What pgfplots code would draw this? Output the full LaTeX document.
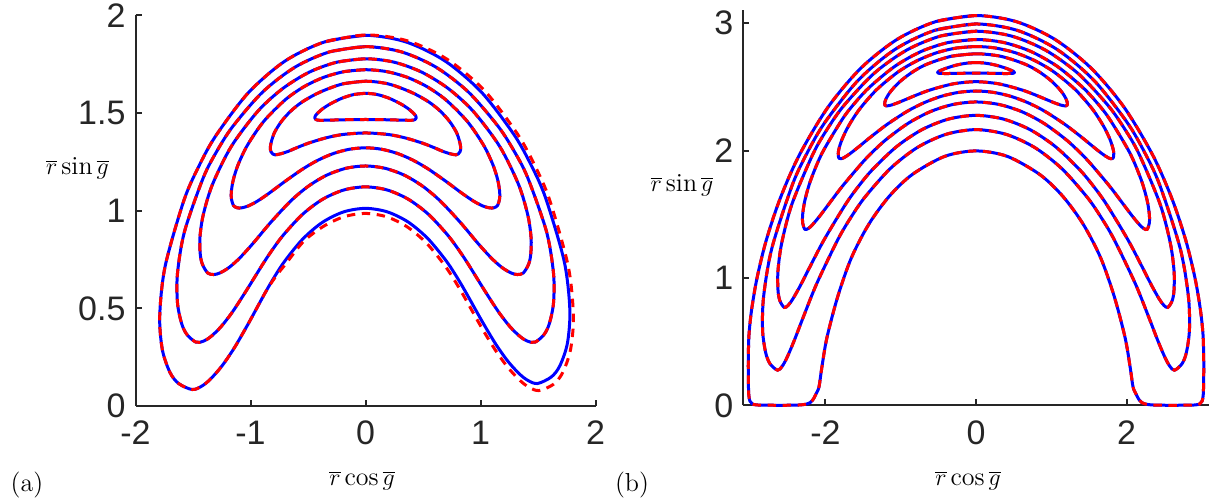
\documentclass[border=0pt]{standalone}
\usepackage{pgfplots}
\usepackage{pgfplotstable}
\pgfplotsset{compat=1.18}
\usepackage{fontspec}
\newfontfamily\ticksf{Liberation Sans}
\definecolor{axgray}{rgb}{0.15,0.15,0.15}
\definecolor{mblue}{rgb}{0,0,1}
\definecolor{mred}{rgb}{1,0,0}
\pgfplotsset{
  mystyle/.style={scale only axis, axis lines=left, axis line style={-, line width=1pt, draw=axgray},
    tick align=inside, major tick length=3pt, tick style={line width=1pt, draw=axgray},
    tick label style={font=\ticksf\fontsize{17}{20}\selectfont, text=axgray}, clip=false},
  bl/.style={draw=mblue, line width=1.5pt, smooth, tension=0.5, mark=none, line join=round},
  rd/.style={draw=mred, line width=1.5pt, smooth, tension=0.5, mark=none, dash pattern=on 4.2pt off 3.3pt},
}
% ---------------- panel (a) ----------------
\pgfplotstableread{
x y
0 1.601
-0.1 1.595
-0.2 1.577
-0.3 1.549
-0.37 1.523
-0.41 1.503
-0.435 1.487
-0.442 1.476
-0.432 1.467
-0.4 1.463
-0.3 1.464
-0.15 1.466
0 1.467
0.15 1.466
0.3 1.464
0.4 1.463
0.432 1.467
0.442 1.476
0.435 1.487
0.41 1.503
0.37 1.523
0.3 1.549
0.2 1.577
0.1 1.595
0 1.601
-0.1 1.595
}\tAi
\pgfplotstableread{
x y
0 1.663
-0.2 1.649
-0.4 1.606
-0.55 1.557
-0.65 1.51
-0.73 1.458
-0.79 1.402
-0.818 1.355
-0.828 1.322
-0.822 1.302
-0.806 1.29
-0.785 1.286
-0.74 1.291
-0.68 1.302
-0.6 1.322
-0.5 1.345
-0.35 1.372
-0.2 1.39
0 1.398
0.2 1.39
0.35 1.372
0.5 1.345
0.6 1.322
0.68 1.302
0.74 1.291
0.785 1.286
0.806 1.29
0.822 1.302
0.828 1.322
0.818 1.355
0.79 1.402
0.73 1.458
0.65 1.51
0.55 1.557
0.4 1.606
0.2 1.649
0 1.663
-0.2 1.649
}\tAii
\pgfplotstableread{
x y
0 1.722
-0.1808 1.7125
-0.3595 1.6837
-0.5338 1.6354
-0.7007 1.5666
-0.8865 1.4563
-1.0276 1.3345
-1.1087 1.2341
-1.1501 1.1569
-1.1666 1.0973
-1.1660 1.0604
-1.1481 1.0264
-1.1161 1.0150
-1.0785 1.0144
-1.0185 1.0246
-0.9418 1.0483
-0.8388 1.0893
-0.7001 1.1500
-0.5432 1.2143
-0.4110 1.2593
-0.2761 1.2934
-0.1388 1.3147
0 1.322
0.1388 1.3147
0.2761 1.2934
0.4110 1.2593
0.5432 1.2143
0.7001 1.1500
0.8388 1.0893
0.9418 1.0483
1.0185 1.0246
1.0785 1.0144
1.1161 1.0150
1.1481 1.0264
1.1660 1.0604
1.1666 1.0973
1.1501 1.1569
1.1087 1.2341
1.0276 1.3345
0.8865 1.4563
0.7007 1.5666
0.5338 1.6354
0.3595 1.6837
0.1808 1.7125
0 1.722
-0.1808 1.7125
}\tAiii
\pgfplotstableread{
x y
0 1.778
-0.2459 1.7609
-0.4872 1.7099
-0.7187 1.6259
-0.9360 1.5095
-1.1681 1.3280
-1.3321 1.1324
-1.4117 0.9767
-1.4400 0.8601
-1.4363 0.7736
-1.4162 0.7228
-1.3704 0.6802
-1.3189 0.6731
-1.2651 0.6814
-1.1870 0.7090
-1.0946 0.7573
-0.9788 0.8321
-0.8260 0.9390
-0.6507 1.0494
-0.4974 1.1253
-0.3368 1.1821
-0.1700 1.2172
0 1.229
0.1700 1.2172
0.3368 1.1821
0.4974 1.1253
0.6507 1.0494
0.8260 0.9390
0.9788 0.8321
1.0946 0.7573
1.1870 0.7090
1.2651 0.6814
1.3189 0.6731
1.3704 0.6802
1.4162 0.7228
1.4363 0.7736
1.4400 0.8601
1.4117 0.9767
1.3321 1.1324
1.1681 1.3280
0.9360 1.5095
0.7187 1.6259
0.4872 1.7099
0.2459 1.7609
0 1.778
-0.2459 1.7609
}\tAiv
\pgfplotstableread{
x y
0 1.84
-0.3097 1.8137
-0.6103 1.7359
-0.8938 1.6082
-1.1508 1.4340
-1.2888 1.3086
-1.4107 1.1687
-1.5742 0.8925
-1.6348 0.6797
-1.6350 0.5289
-1.5995 0.4234
-1.5534 0.3664
-1.4742 0.3268
-1.4078 0.3321
-1.3438 0.3557
-1.2560 0.4063
-1.1575 0.4812
-1.0385 0.5888
-0.8854 0.7335
-0.7978 0.8100
-0.7068 0.8807
-0.5459 0.9822
-0.3722 1.0587
-0.1888 1.1060
0 1.122
0.1888 1.1060
0.3722 1.0587
0.5459 0.9822
0.7068 0.8807
0.7978 0.8100
0.8854 0.7335
1.0385 0.5888
1.1575 0.4812
1.2560 0.4063
1.3438 0.3557
1.4078 0.3321
1.4742 0.3268
1.5534 0.3664
1.5995 0.4234
1.6350 0.5289
1.6348 0.6797
1.5742 0.8925
1.4107 1.1687
1.2888 1.3086
1.1508 1.4340
0.8938 1.6082
0.6103 1.7359
0.3097 1.8137
0 1.84
-0.3097 1.8137
}\tAv
\pgfplotstableread{
x y
0 1.898
-0.3574 1.8640
-0.7024 1.7653
-1.0224 1.6015
-1.3053 1.3804
-1.4529 1.2233
-1.5811 1.0493
-1.7426 0.7148
-1.7893 0.4620
-1.7667 0.2886
-1.7011 0.1729
-1.6265 0.1158
-1.5076 0.0843
-1.4248 0.1014
-1.3492 0.1371
-1.2495 0.2041
-1.1433 0.2952
-1.0215 0.4190
-0.8729 0.5793
-0.7888 0.6641
-0.7018 0.7422
-0.5457 0.8549
-0.3743 0.9405
-0.1905 0.9939
0 1.012
0.1879 0.9944
0.3694 0.9426
0.5390 0.8591
0.6938 0.7493
0.7802 0.6735
0.8642 0.5907
1.0129 0.4347
1.1344 0.3152
1.2403 0.2275
1.3392 0.1638
1.4141 0.1302
1.4957 0.1151
1.6160 0.1488
1.6908 0.2068
1.7559 0.3221
1.7769 0.4937
1.7276 0.7415
1.5639 1.0689
1.4354 1.2390
1.2887 1.3917
1.0081 1.6069
0.6922 1.7663
0.3523 1.8640
0 1.898
-0.3574 1.8640
}\tAviB
\pgfplotstableread{
x y
0 1.900
-0.3574 1.8640
-0.7024 1.7653
-1.0224 1.6015
-1.3053 1.3804
-1.4529 1.2233
-1.5811 1.0493
-1.7426 0.7148
-1.7893 0.4620
-1.7667 0.2886
-1.7011 0.1729
-1.6265 0.1158
-1.5076 0.0843
-1.4248 0.1014
-1.3492 0.1371
-1.2495 0.2041
-1.1433 0.2952
-1.0215 0.4190
-0.8729 0.5793
-0.7841 0.6602
-0.6906 0.7302
-0.5381 0.8429
-0.3660 0.9198
-0.1858 0.9693
0 0.986
0.1861 0.9683
0.3655 0.9161
0.5329 0.8324
0.6856 0.7224
0.7712 0.6462
0.8540 0.5641
1.0031 0.4080
1.1275 0.2876
1.2375 0.1980
1.3415 0.1318
1.4209 0.0961
1.5079 0.0790
1.6330 0.1105
1.7119 0.1682
1.7818 0.2851
1.8077 0.4612
1.7623 0.7169
1.6000 1.0568
1.4711 1.2327
1.3216 1.3926
1.0342 1.6153
0.7086 1.7759
0.3595 1.8707
0 1.900
-0.3574 1.8640
}\tAviR
% ---------------- panel (b) ----------------
\pgfplotstableread{
x y
0 2.69
-0.1 2.687
-0.2 2.678
-0.3 2.664
-0.4 2.645
-0.46 2.631
-0.5 2.62
-0.51 2.612
-0.495 2.606
-0.4 2.604
-0.2 2.606
0 2.607
0.2 2.606
0.4 2.604
0.495 2.606
0.51 2.612
0.5 2.62
0.46 2.631
0.4 2.645
0.3 2.664
0.2 2.678
0.1 2.687
0 2.69
-0.1 2.687
}\tBi
\pgfplotstableread{
x y
0 2.759
-0.3266 2.7395
-0.6478 2.6784
-0.8348 2.6191
-0.9903 2.5510
-1.0920 2.4924
-1.1560 2.4453
-1.1938 2.4072
-1.2100 2.3820
-1.2113 2.3569
-1.1942 2.3509
-1.1661 2.3513
-1.1149 2.3585
-1.0403 2.3743
-0.9320 2.4006
-0.7773 2.4385
-0.5991 2.4771
-0.3009 2.5232
0 2.540
0.3009 2.5232
0.5991 2.4771
0.7773 2.4385
0.9320 2.4006
1.0403 2.3743
1.1149 2.3585
1.1661 2.3513
1.1942 2.3509
1.2113 2.3569
1.2100 2.3820
1.1938 2.4072
1.1560 2.4453
1.0920 2.4924
0.9903 2.5510
0.8348 2.6191
0.6478 2.6784
0.3266 2.7395
0 2.759
-0.3266 2.7395
}\tBii
\pgfplotstableread{
x y
0 2.816
-0.2650 2.8036
-0.5277 2.7661
-0.7855 2.7036
-1.0357 2.6161
-1.3211 2.4764
-1.5488 2.3226
-1.6894 2.1956
-1.7717 2.0979
-1.8155 2.0234
-1.8296 1.9781
-1.8208 1.9391
-1.7903 1.9355
-1.7465 1.9466
-1.6695 1.9769
-1.5603 2.0278
-1.4030 2.1040
-1.1771 2.2064
-0.9136 2.3077
-0.6900 2.3750
-0.4627 2.4251
-0.2321 2.4561
0 2.467
0.2321 2.4561
0.4627 2.4251
0.6900 2.3750
0.9136 2.3077
1.1771 2.2064
1.4030 2.1040
1.5603 2.0278
1.6695 1.9769
1.7465 1.9466
1.7903 1.9355
1.8208 1.9391
1.8296 1.9781
1.8155 2.0234
1.7717 2.0979
1.6894 2.1956
1.5488 2.3226
1.3211 2.4764
1.0357 2.6161
0.7855 2.7036
0.5277 2.7661
0.2650 2.8036
0 2.816
-0.2650 2.8036
}\tBiii
\pgfplotstableread{
x y
0 2.871
-0.3666 2.8475
-0.7272 2.7774
-1.0759 2.6614
-1.4066 2.5010
-1.5930 2.3840
-1.7687 2.2511
-2.0395 1.9846
-2.1930 1.7711
-2.2707 1.6133
-2.3019 1.4978
-2.3019 1.4322
-2.2730 1.3819
-2.2299 1.3874
-2.1755 1.4155
-2.0830 1.4800
-1.9556 1.5793
-1.7705 1.7229
-1.5012 1.9106
-1.3413 2.0073
-1.1777 2.0940
-0.8957 2.2157
-0.6038 2.3059
-0.3041 2.3615
0 2.381
0.3041 2.3615
0.6038 2.3059
0.8957 2.2157
1.1777 2.0940
1.3413 2.0073
1.5012 1.9106
1.7705 1.7229
1.9556 1.5793
2.0830 1.4800
2.1755 1.4155
2.2299 1.3874
2.2730 1.3819
2.3019 1.4322
2.3019 1.4978
2.2707 1.6133
2.1930 1.7711
2.0395 1.9846
1.7687 2.2511
1.5930 2.3840
1.4066 2.5010
1.0759 2.6614
0.7272 2.7774
0.3666 2.8475
0 2.871
-0.3666 2.8475
}\tBiv
\pgfplotstableread{
x y
0 2.936
-0.4668 2.8987
-0.9219 2.7875
-1.3532 2.6054
-1.7498 2.3561
-1.9663 2.1764
-2.1629 1.9752
-2.4437 1.5810
-2.5794 1.2760
-2.6293 1.0580
-2.6293 0.9055
-2.6052 0.8229
-2.5464 0.7687
-2.4922 0.7872
-2.4310 0.8372
-2.3339 0.9391
-2.2036 1.0901
-2.0142 1.3031
-1.7303 1.5801
-1.5564 1.7226
-1.3746 1.8509
-1.0547 2.0306
-0.7158 2.1643
-0.3619 2.2471
0 2.276
0.3619 2.2471
0.7158 2.1643
1.0547 2.0306
1.3746 1.8509
1.5564 1.7226
1.7303 1.5801
2.0142 1.3031
2.2036 1.0901
2.3339 0.9391
2.4310 0.8372
2.4922 0.7872
2.5464 0.7687
2.6052 0.8229
2.6293 0.9055
2.6293 1.0580
2.5794 1.2760
2.4437 1.5810
2.1629 1.9752
1.9663 2.1764
1.7498 2.3561
1.3532 2.6054
0.9219 2.7875
0.4668 2.8987
0 2.936
-0.4668 2.8987
}\tBv
\pgfplotstableread{
x y
0 2.993
-0.5453 2.9430
-1.0727 2.7943
-1.5638 2.5518
-2.0025 2.2240
-2.2341 1.9905
-2.4378 1.7325
-2.7106 1.2343
-2.8198 0.8577
-2.8344 0.5964
-2.7947 0.4188
-2.7365 0.3282
-2.6354 0.2769
-2.5727 0.3086
-2.5096 0.3761
-2.4147 0.5081
-2.2912 0.6969
-2.1112 0.9613
-1.8333 1.3029
-1.6587 1.4779
-1.4730 1.6359
-1.1388 1.8583
-0.7772 2.0246
-0.3943 2.1279
0 2.164
0.3943 2.1279
0.7772 2.0246
1.1388 1.8583
1.4730 1.6359
1.6587 1.4779
1.8333 1.3029
2.1112 0.9613
2.2912 0.6969
2.4147 0.5081
2.5096 0.3761
2.5727 0.3086
2.6354 0.2769
2.7365 0.3282
2.7947 0.4188
2.8344 0.5964
2.8198 0.8577
2.7106 1.2343
2.4378 1.7325
2.2341 1.9905
2.0025 2.2240
1.5638 2.5518
1.0727 2.7943
0.5453 2.9430
0 2.993
-0.5453 2.9430
}\tBvi
\pgfplotstableread{
x y
0 3.059
-0.531 3.012
-1.0456 2.8727
-1.528 2.6466
-1.9643 2.3410
-2.3441 1.9669
-2.6001 1.6247
-2.7842 1.2983
-2.9075 1.0011
-2.98 0.75
-3.015 0.55
-3.024 0.35
-3.023 0.2
-3.018 0.09
-3.003 0.035
-2.97 0.012
-2.9 0.004
-2.7 0.002
-2.5 0.002
-2.35 0.004
-2.26 0.01
-2.2 0.024
-2.16 0.05
-2.125 0.09
-2.0849 0.1458
-2.0499 0.2881
-1.9802 0.5306
-1.8353 0.8558
-1.6548 1.1587
-1.4227 1.4227
-1.1501 1.6425
-0.8452 1.8126
-0.4154 1.9543
0 1.997
0.4154 1.9543
0.8452 1.8126
1.1501 1.6425
1.4227 1.4227
1.6548 1.1587
1.8353 0.8558
1.9802 0.5306
2.0499 0.2881
2.0849 0.1458
2.125 0.09
2.16 0.05
2.2 0.024
2.26 0.01
2.35 0.004
2.5 0.002
2.7 0.002
2.9 0.004
2.97 0.012
3.003 0.035
3.018 0.09
3.023 0.2
3.024 0.35
3.015 0.55
2.98 0.75
2.9075 1.0011
2.7842 1.2983
2.6001 1.6247
2.3441 1.9669
1.9643 2.3410
1.528 2.6466
1.0456 2.8727
0.531 3.012
0 3.059
-0.531 3.012
}\tBvii
\begin{document}
\begin{tikzpicture}
\path[use as bounding box] (0,0) rectangle (607.5pt,251.5pt);
\begin{axis}[mystyle, at={(67.75pt,48.5pt)}, anchor=south west,
  width=230pt, height=195.3pt,
  xmin=-2, xmax=2, ymin=0, ymax=2,
  xtick={-2,-1,0,1,2}, xticklabels={{-2},{-1},{0},{1},{2}},
  ytick={0,0.5,1,1.5,2}, yticklabels={{0},{0.5},{1},{1.5},{2}},
  xticklabel style={yshift=-4pt}, yticklabel style={xshift=-1.5pt}]
\addplot[bl] table {\tAi};
\addplot[rd] table {\tAi};
\addplot[bl] table {\tAii};
\addplot[rd] table {\tAii};
\addplot[bl] table {\tAiii};
\addplot[rd] table {\tAiii};
\addplot[bl] table {\tAiv};
\addplot[rd] table {\tAiv};
\addplot[bl] table {\tAv};
\addplot[rd] table {\tAv};
\addplot[bl] table {\tAviB};
\addplot[rd] table {\tAviR};
\end{axis}
\begin{axis}[mystyle, at={(371.65pt,48.75pt)}, anchor=south west,
  width=232.7pt, height=197.6pt,
  xmin=-3.09, xmax=3.09, ymin=0, ymax=3.1,
  xtick={-2,0,2}, xticklabels={{-2},{0},{2}},
  ytick={0,1,2,3}, yticklabels={{0},{1},{2},{3}},
  xticklabel style={yshift=-4pt}, yticklabel style={xshift=-1.5pt}]
\addplot[bl] table {\tBi};
\addplot[rd] table {\tBi};
\addplot[bl] table {\tBii};
\addplot[rd] table {\tBii};
\addplot[bl] table {\tBiii};
\addplot[rd] table {\tBiii};
\addplot[bl] table {\tBiv};
\addplot[rd] table {\tBiv};
\addplot[bl] table {\tBv};
\addplot[rd] table {\tBv};
\addplot[bl] table {\tBvi};
\addplot[rd] table {\tBvi};
\addplot[bl] table {\tBvii};
\addplot[rd] table {\tBvii};
\end{axis}
\node[font=\fontsize{13}{15}\selectfont] at (38.75pt,167.5pt) {$\overline{r}\sin\overline{g}$};
\node[font=\fontsize{13}{15}\selectfont] at (181pt,11pt) {$\overline{r}\cos\overline{g}$};
\node[font=\fontsize{13}{15}\selectfont] at (13.5pt,9pt) {(a)};
\node[font=\fontsize{13}{15}\selectfont] at (341pt,159pt) {$\overline{r}\sin\overline{g}$};
\node[font=\fontsize{13}{15}\selectfont] at (484pt,11pt) {$\overline{r}\cos\overline{g}$};
\node[font=\fontsize{13}{15}\selectfont] at (316pt,9pt) {(b)};
\end{tikzpicture}
\end{document}
